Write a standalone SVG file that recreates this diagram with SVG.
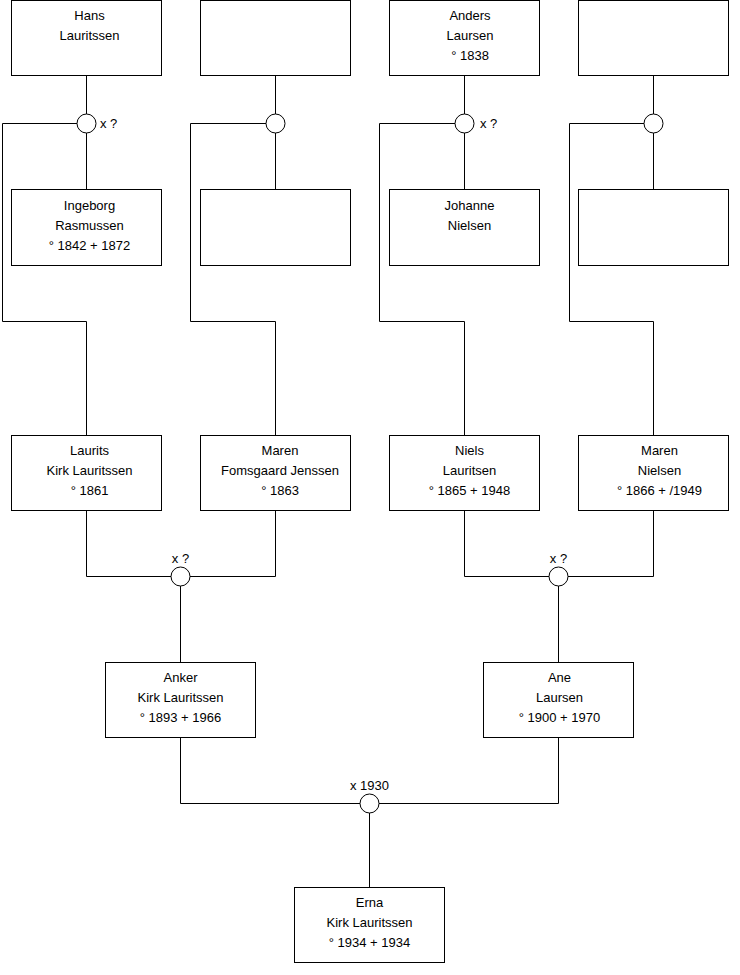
<svg xmlns="http://www.w3.org/2000/svg" width="740" height="975" viewBox="0 0 740 975">
<style>
.box{fill:#fff;stroke:#000;stroke-width:1}
.c{fill:#fff;stroke:#000;stroke-width:1}
.ln{fill:none;stroke:#000;stroke-width:1}
text{font-family:"Liberation Sans",Arial,sans-serif;font-size:13px;fill:#000}
.m{text-anchor:middle}
</style>
<rect width="740" height="975" fill="#fff"/>
<g id="connectors">
<path class="ln" d="M86.5 75.5V114M86.5 133V189.5M77 123.5H2.5V321.5H86.5V435.5"/>
<path class="ln" d="M275.5 75.5V114M275.5 133V189.5M266 123.5H190.5V321.5H275.5V435.5"/>
<path class="ln" d="M464.5 75.5V114M464.5 133V189.5M455 123.5H379.5V321.5H464.5V435.5"/>
<path class="ln" d="M653.5 75.5V114M653.5 133V189.5M644 123.5H569.5V321.5H653.5V435.5"/>
<path class="ln" d="M86.5 510.5V576.5H171M190 576.5H275.5V510.5M180.5 586V662.5"/>
<path class="ln" d="M464.5 510.5V576.5H549M568 576.5H653.5V510.5M558.5 586V662.5"/>
<path class="ln" d="M180.5 737.5V803.5H360M379 803.5H558.5V737.5M369.5 813V887.5"/>
</g>
<g id="m1"><circle class="c" cx="86.5" cy="123.5" r="9.5"/><text x="100" y="128">x ?</text></g>
<g id="m2"><circle class="c" cx="275.5" cy="123.5" r="9.5"/></g>
<g id="m3"><circle class="c" cx="464.5" cy="123.5" r="9.5"/><text x="480" y="128">x ?</text></g>
<g id="m4"><circle class="c" cx="653.5" cy="123.5" r="9.5"/></g>
<g id="m5"><circle class="c" cx="180.5" cy="576.5" r="9.5"/><text class="m" x="180.5" y="563">x ?</text></g>
<g id="m6"><circle class="c" cx="558.5" cy="576.5" r="9.5"/><text class="m" x="558.5" y="563">x ?</text></g>
<g id="m7"><circle class="c" cx="369.5" cy="803.5" r="9.5"/><text class="m" x="369.5" y="790">x 1930</text></g>
<g id="hans"><rect class="box" x="11.5" y="0.5" width="150" height="75"/><text class="m" x="89.5" y="20">Hans</text><text class="m" x="89.5" y="40">Lauritssen</text></g>
<g id="unknown1"><rect class="box" x="200.5" y="0.5" width="150" height="75"/></g>
<g id="anders"><rect class="box" x="389.5" y="0.5" width="150" height="75"/><text class="m" x="470" y="20">Anders</text><text class="m" x="470" y="40">Laursen</text><text class="m" x="470" y="60">° 1838</text></g>
<g id="unknown2"><rect class="box" x="578.5" y="0.5" width="150" height="75"/></g>
<g id="ingeborg"><rect class="box" x="11.5" y="189.5" width="150" height="76"/><text class="m" x="89.5" y="210">Ingeborg</text><text class="m" x="89.5" y="230">Rasmussen</text><text class="m" x="89.5" y="250">° 1842 + 1872</text></g>
<g id="unknown3"><rect class="box" x="200.5" y="189.5" width="150" height="76"/></g>
<g id="johanne"><rect class="box" x="389.5" y="189.5" width="150" height="76"/><text class="m" x="469.5" y="210">Johanne</text><text class="m" x="469.5" y="230">Nielsen</text></g>
<g id="unknown4"><rect class="box" x="578.5" y="189.5" width="150" height="76"/></g>
<g id="laurits"><rect class="box" x="11.5" y="435.5" width="150" height="75"/><text class="m" x="89.5" y="455">Laurits</text><text class="m" x="89.5" y="475">Kirk Lauritssen</text><text class="m" x="89.5" y="495">° 1861</text></g>
<g id="maren1"><rect class="box" x="200.5" y="435.5" width="150" height="75"/><text class="m" x="280" y="455">Maren</text><text class="m" x="280" y="475">Fomsgaard Jenssen</text><text class="m" x="280" y="495">° 1863</text></g>
<g id="niels"><rect class="box" x="389.5" y="435.5" width="150" height="75"/><text class="m" x="469.5" y="455">Niels</text><text class="m" x="469.5" y="475">Lauritsen</text><text class="m" x="469.5" y="495">° 1865 + 1948</text></g>
<g id="maren2"><rect class="box" x="578.5" y="435.5" width="150" height="75"/><text class="m" x="659.5" y="455">Maren</text><text class="m" x="659.5" y="475">Nielsen</text><text class="m" x="659.5" y="495">° 1866 + /1949</text></g>
<g id="anker"><rect class="box" x="105.5" y="662.5" width="150" height="75"/><text class="m" x="180.5" y="682">Anker</text><text class="m" x="180.5" y="702">Kirk Lauritssen</text><text class="m" x="180.5" y="722">° 1893 + 1966</text></g>
<g id="ane"><rect class="box" x="483.5" y="662.5" width="150" height="75"/><text class="m" x="559.5" y="682">Ane</text><text class="m" x="559.5" y="702">Laursen</text><text class="m" x="559.5" y="722">° 1900 + 1970</text></g>
<g id="erna"><rect class="box" x="294.5" y="887.5" width="150" height="75"/><text class="m" x="369.5" y="907">Erna</text><text class="m" x="369.5" y="927">Kirk Lauritssen</text><text class="m" x="369.5" y="947">° 1934 + 1934</text></g>
</svg>
